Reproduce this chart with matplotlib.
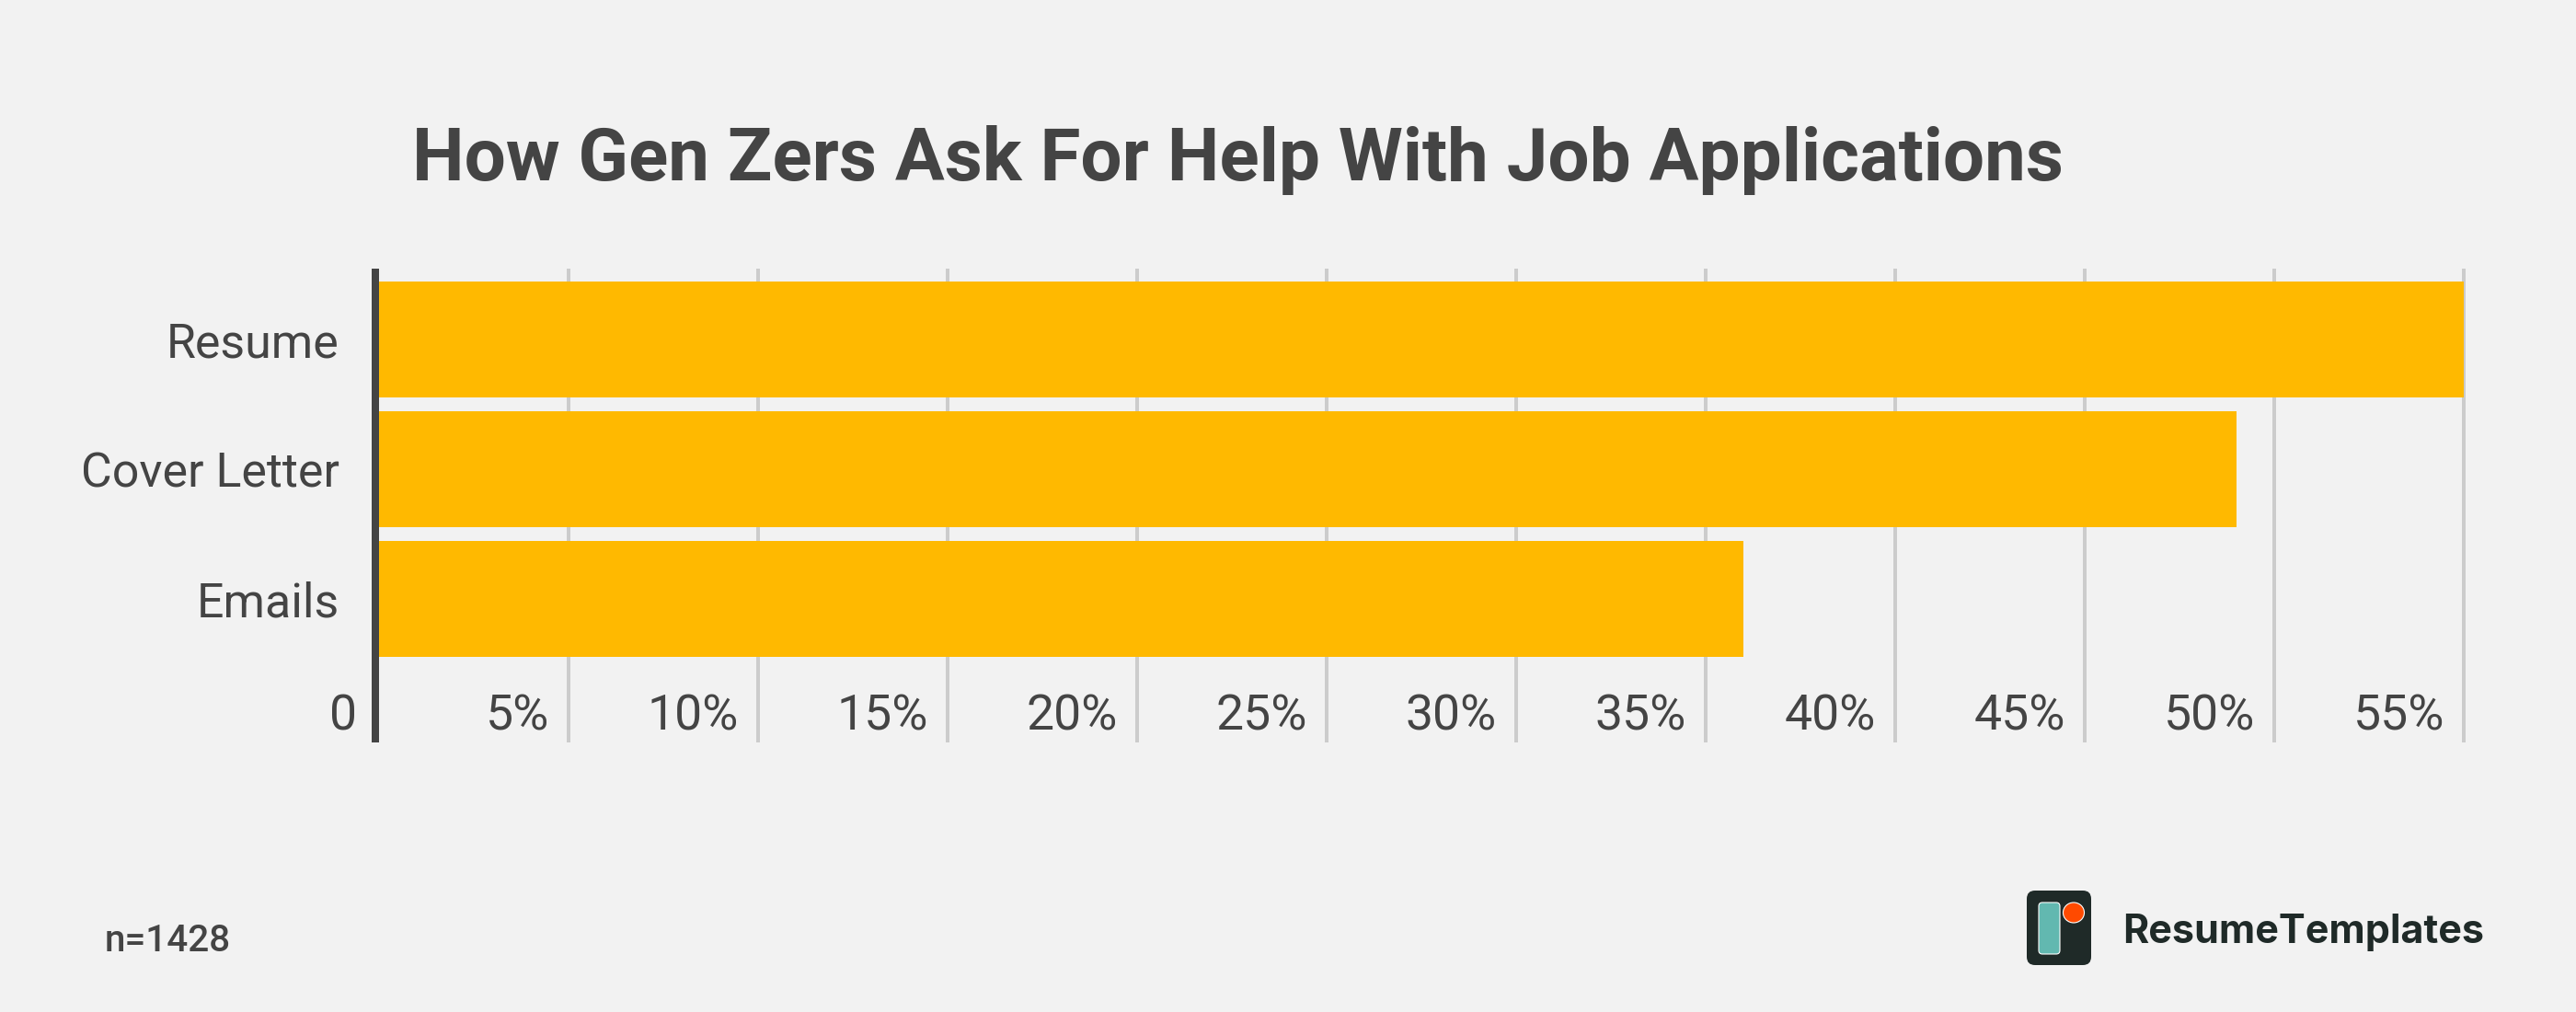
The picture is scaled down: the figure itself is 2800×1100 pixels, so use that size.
import matplotlib
matplotlib.use('Agg')
import matplotlib.pyplot as plt
from matplotlib.patches import Ellipse, FancyBboxPatch

categorias = ['Resume', 'Cover Letter', 'Emails']
valores = [55, 49, 36]
ticks_x = [5, 10, 15, 20, 25, 30, 35, 40, 45, 50, 55]
etiquetas_x = ['5%', '10%', '15%', '20%', '25%', '30%', '35%', '40%', '45%', '50%', '55%']

titulo = 'How Gen Zers Ask For Help With Job Applications'
nota = 'n=1428'
marca = 'ResumeTemplates'

FONDO = '#f2f2f2'
COLOR_BARRA = '#ffb900'
COLOR_TEXTO = '#444444'
COLOR_GRID = '#cccccc'
COLOR_LOGO = '#1f2a28'

W, H = 2800, 1100
PT = 0.72  # 1 px a 100 dpi en puntos

plt.rcParams['font.family'] = ['Roboto', 'DejaVu Sans']

fig = plt.figure(figsize=(W / 100, H / 100), dpi=100, facecolor=FONDO)

# Area del grafico, en pixeles de la imagen
izq, der, arriba, abajo = 412, 2680, 292, 807
ax = fig.add_axes([izq / W, 1 - abajo / H, (der - izq) / W, (abajo - arriba) / H])
ax.set_facecolor(FONDO)

ax.barh(range(len(categorias)), valores, height=0.894, color=COLOR_BARRA, zorder=3)

ax.set_xlim(0, 55.05)
ax.set_ylim(3.106, -0.546)

ax.set_xticks(ticks_x)
ax.set_xticklabels([])
ax.set_yticks(range(len(categorias)))
ax.set_yticklabels(categorias)
ax.tick_params(axis='both', length=0)
ax.tick_params(axis='y', pad=39 * PT, labelsize=37.4, labelcolor=COLOR_TEXTO)
ax.grid(True, axis='x', color=COLOR_GRID, linewidth=4 * PT, zorder=1)
ax.set_axisbelow(True)

for lado in ['top', 'right', 'bottom']:
    ax.spines[lado].set_visible(False)
ax.spines['left'].set_position(('outward', 4 * PT))
ax.spines['left'].set_linewidth(8 * PT)
ax.spines['left'].set_color(COLOR_TEXTO)
ax.spines['left'].set_capstyle('butt')

# Etiquetas del eje x dentro del grafico, a la izquierda de cada linea
transformacion = ax.get_xaxis_transform()
for tick, etiqueta in zip(ticks_x, etiquetas_x):
    ax.annotate(etiqueta, xy=(tick, 0), xycoords=transformacion,
                xytext=(-21 * PT, 14 * PT), textcoords='offset points',
                ha='right', va='baseline', fontsize=38.5, color=COLOR_TEXTO)
ax.annotate('0', xy=(0, 0), xycoords=transformacion,
            xytext=(-23.5 * PT, 14 * PT), textcoords='offset points',
            ha='right', va='baseline', fontsize=38.5, color=COLOR_TEXTO)

fig.text(448 / W, 1 - 196 / H, titulo, fontsize=57.6, fontweight='bold',
         color=COLOR_TEXTO, ha='left', va='baseline')
fig.text(114 / W, 1 - 1034 / H, nota, fontsize=29.2, fontweight='medium',
         color=COLOR_TEXTO, ha='left', va='baseline')
fig.text(2307 / W, 1 - 1025 / H, marca, fontsize=31, fontweight='bold',
         family=['Inter', 'DejaVu Sans'], color=COLOR_LOGO, ha='left', va='baseline')

# Logo dibujado en pixeles
logo = fig.add_axes([0, 0, 1, 1], zorder=5)
logo.set_xlim(0, W)
logo.set_ylim(H, 0)
logo.axis('off')
logo.add_patch(FancyBboxPatch((2203, 968), 70, 81, boxstyle='round,pad=0,rounding_size=9',
                              facecolor=COLOR_LOGO, edgecolor='none'))
logo.add_patch(FancyBboxPatch((2216, 981), 23, 56, boxstyle='round,pad=0,rounding_size=4',
                              facecolor='#62b8b0', edgecolor='white', linewidth=0.8))
logo.add_patch(Ellipse((2254, 992), 23, 22, facecolor='#ff4a00', edgecolor='white', linewidth=0.8))

fig.savefig('out.png', dpi=100, facecolor=FONDO)
